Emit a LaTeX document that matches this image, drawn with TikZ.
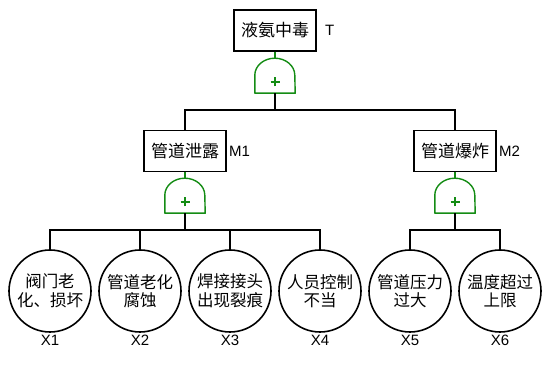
\documentclass[tikz,border=0pt]{standalone}
\usepackage{fontspec}
\setmainfont{Liberation Sans}
\newfontfamily\cjk{Noto Sans CJK SC}
\definecolor{gatecol}{RGB}{20,140,20}
\begin{document}
\begin{tikzpicture}[x=1pt,y=-1pt,
  evbox/.style={draw=black,line width=1.6pt,minimum width=82pt,minimum height=41pt,inner sep=0pt,font=\cjk\fontsize{17}{19}\selectfont},
  basic/.style={draw=black,circle,line width=1.6pt,minimum size=82pt,inner sep=0pt,align=center,font=\cjk\fontsize{16.5}{18.5}\selectfont},
  gatebox/.style={minimum width=40pt,minimum height=35pt,inner sep=0pt},
  gateline/.style={draw=gatecol,line width=1.4pt,line join=round},
  wire/.style={draw=black,line width=1.6pt},
  gwire/.style={draw=gatecol,line width=1.4pt},
  lab/.style={font=\fontsize{15}{17}\selectfont,inner sep=0pt},
  labw/.style={font=\fontsize{15}{17}\selectfont,inner sep=0pt,anchor=west}
]
\useasboundingbox (0,0) rectangle (550,390);
\newcommand\orgateshape[1]{%
  \draw[gateline] (#1.south west) -- ++(0pt,18pt)
     arc[start angle=180,end angle=0,x radius=20pt,y radius=17pt]
     -- (#1.south east) -- cycle;
  \draw[gatecol,line width=1.6pt] ([yshift=-6.5pt]#1.center) ++(-4.5pt,0pt) -- ++(9pt,0pt);
  \draw[gatecol,line width=1.6pt] ([yshift=-6.5pt]#1.center) ++(0pt,-4.5pt) -- ++(0pt,9pt);
}
% top event
\node[evbox] (top) at (275,30.5) {液氨中毒};
\node[labw] (tl) at (325,30.5) {T};
\node[gatebox] (g0) at (275,75.5) {};
\orgateshape{g0}
% intermediate events
\node[evbox] (m1) at (185,151) {管道泄露};
\node[labw] (m1l) at (229,151) {M1};
\node[evbox] (m2) at (455,151) {管道爆炸};
\node[labw] (m2l) at (499,151) {M2};
\node[gatebox] (g1) at (185,195.5) {};
\orgateshape{g1}
\node[gatebox] (g2) at (455,195.5) {};
\orgateshape{g2}
% basic events
\node[basic] (x1) at (50,291) {阀门老\\化、损坏};
\node[basic] (x2) at (140,291) {管道老化\\腐蚀};
\node[basic] (x3) at (230,291) {焊接接头\\出现裂痕};
\node[basic] (x4) at (320,291) {人员控制\\不当};
\node[basic] (x5) at (410,291) {管道压力\\过大};
\node[basic] (x6) at (500,291) {温度超过\\上限};
\node[lab] (l1) at (50,340) {X1};
\node[lab] (l2) at (140,340) {X2};
\node[lab] (l3) at (230,340) {X3};
\node[lab] (l4) at (320,340) {X4};
\node[lab] (l5) at (410,340) {X5};
\node[lab] (l6) at (500,340) {X6};
% bus coordinates
\coordinate (b0) at (275,110);
\coordinate (b1) at (185,230);
\coordinate (b2) at (455,230);
% connectors
\draw[gwire] (top.south) -- (g0.north);
\draw[gwire] (m1.south) -- (g1.north);
\draw[gwire] (m2.south) -- (g2.north);
\draw[wire] (g0.south) -- (b0);
\draw[wire] (m1.north) -- (m1.north |- b0) -- (m2.north |- b0) -- (m2.north);
\draw[wire] (g1.south) -- (b1);
\draw[wire] (x1.north) -- (x1.north |- b1) -- (x4.north |- b1) -- (x4.north);
\draw[wire] (x2.north) -- (x2.north |- b1);
\draw[wire] (x3.north) -- (x3.north |- b1);
\draw[wire] (g2.south) -- (b2);
\draw[wire] (x5.north) -- (x5.north |- b2) -- (x6.north |- b2) -- (x6.north);
\end{tikzpicture}
\end{document}
